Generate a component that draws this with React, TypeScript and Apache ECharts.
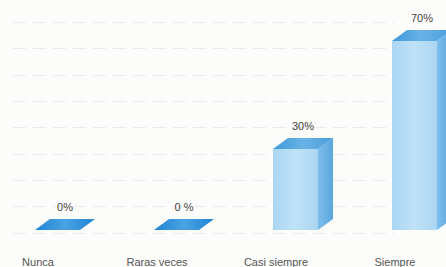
import React, { useEffect, useRef } from "react";
import * as echarts from "echarts";

const categories = ["Nunca", "Raras veces", "Casi siempre", "Siempre"];
const values = [0, 0, 30, 70];
const valueLabels = ["0%", "0 %", "30%", "70%"];

export default function App() {
  const ref = useRef<HTMLDivElement>(null);
  useEffect(() => {
    if (!ref.current) return;
    const chart = echarts.init(ref.current, null, { renderer: "svg" });
    const W = 45;
    const DX = 15;
    const DY = 11;
    chart.setOption({
      animation: false,
      backgroundColor: "#fcfcfa",
      grid: [
        { left: -2, top: 14, width: 476, bottom: 37, outerBoundsMode: "none", containLabel: false },
        { left: 12, top: 22, right: 52, bottom: 34, outerBoundsMode: "none", containLabel: false },
      ],
      xAxis: [
        {
          type: "category",
          gridIndex: 0,
          data: categories,
          axisLine: { show: false },
          axisTick: { show: false },
          axisLabel: {
            margin: 26,
            color: "#555",
            fontSize: 11,
            fontFamily: "Liberation Sans",
            padding: [0, 39, 0, 0],
          },
        },
        {
          type: "category",
          gridIndex: 1,
          data: categories,
          show: false,
        },
      ],
      yAxis: [
        {
          type: "value",
          gridIndex: 0,
          min: 0,
          max: 80,
          interval: 10,
          show: false,
          splitLine: { show: false },
        },
        {
          type: "value",
          gridIndex: 1,
          min: 0,
          max: 80,
          interval: 10,
          axisLine: { show: false },
          axisTick: { show: false },
          axisLabel: { show: false },
          splitLine: {
            show: true,
            lineStyle: { color: "#ececec", width: 1, type: [14, 6] },
          },
        },
      ],
      series: [
        {
          type: "custom",
          xAxisIndex: 0,
          yAxisIndex: 0,
          data: values.map((v, i) => [i, v]),
          renderItem: (params: any, api: any) => {
            const i = api.value(0);
            const v = api.value(1);
            const base = api.coord([i, 0]);
            const top = api.coord([i, v]);
            const x0 = base[0] - W / 2;
            const x1 = x0 + W;
            const yb = base[1];
            const yt = top[1];
            const children: any[] = [];
            if (v > 0) {
              children.push({
                type: "polygon",
                shape: {
                  points: [
                    [x1, yt],
                    [x1 + DX, yt - DY],
                    [x1 + DX, yb - DY],
                    [x1, yb],
                  ],
                },
                style: {
                  fill: new echarts.graphic.LinearGradient(0, 0, 1, 0, [
                    { offset: 0, color: "#7dbdea" },
                    { offset: 1, color: "#5aa6de" },
                  ]),
                },
              });
              children.push({
                type: "rect",
                shape: { x: x0, y: yt, width: W, height: yb - yt },
                style: {
                  fill: new echarts.graphic.LinearGradient(0, 0, 1, 0, [
                    { offset: 0, color: "#a9d6f3" },
                    { offset: 0.5, color: "#bfe2f7" },
                    { offset: 1, color: "#aad6f2" },
                  ]),
                },
              });
              children.push({
                type: "polygon",
                shape: {
                  points: [
                    [x0, yt],
                    [x0 + DX, yt - DY],
                    [x1 + DX, yt - DY],
                    [x1, yt],
                  ],
                },
                style: {
                  fill: new echarts.graphic.LinearGradient(0, 0, 1, 0, [
                    { offset: 0, color: "#3f98d9" },
                    { offset: 0.5, color: "#69b2e6" },
                    { offset: 1, color: "#4a9edc" },
                  ]),
                },
              });
            } else {
              children.push({
                type: "polygon",
                shape: {
                  points: [
                    [x0, yt],
                    [x0 + DX, yt - DY],
                    [x1 + DX, yt - DY],
                    [x1, yt],
                  ],
                },
                style: {
                  fill: new echarts.graphic.LinearGradient(0, 0, 1, 0, [
                    { offset: 0, color: "#1f84d4" },
                    { offset: 0.5, color: "#4aa2e2" },
                    { offset: 1, color: "#1f84d4" },
                  ]),
                },
              });
            }
            children.push({
              type: "text",
              style: {
                x: x0 + W / 2 + DX / 2,
                y: yt - DY - 12,
                text: valueLabels[i],
                fill: "#444",
                fontSize: 11,
                fontFamily: "Liberation Sans",
                align: "center",
                verticalAlign: "middle",
              },
            });
            return { type: "group", children };
          },
        },
      ],
    });
    return () => chart.dispose();
  }, []);
  return (
    <div
      ref={ref}
      style={{ position: "fixed", left: 0, top: 0, width: 446, height: 267 }}
    />
  );
}
